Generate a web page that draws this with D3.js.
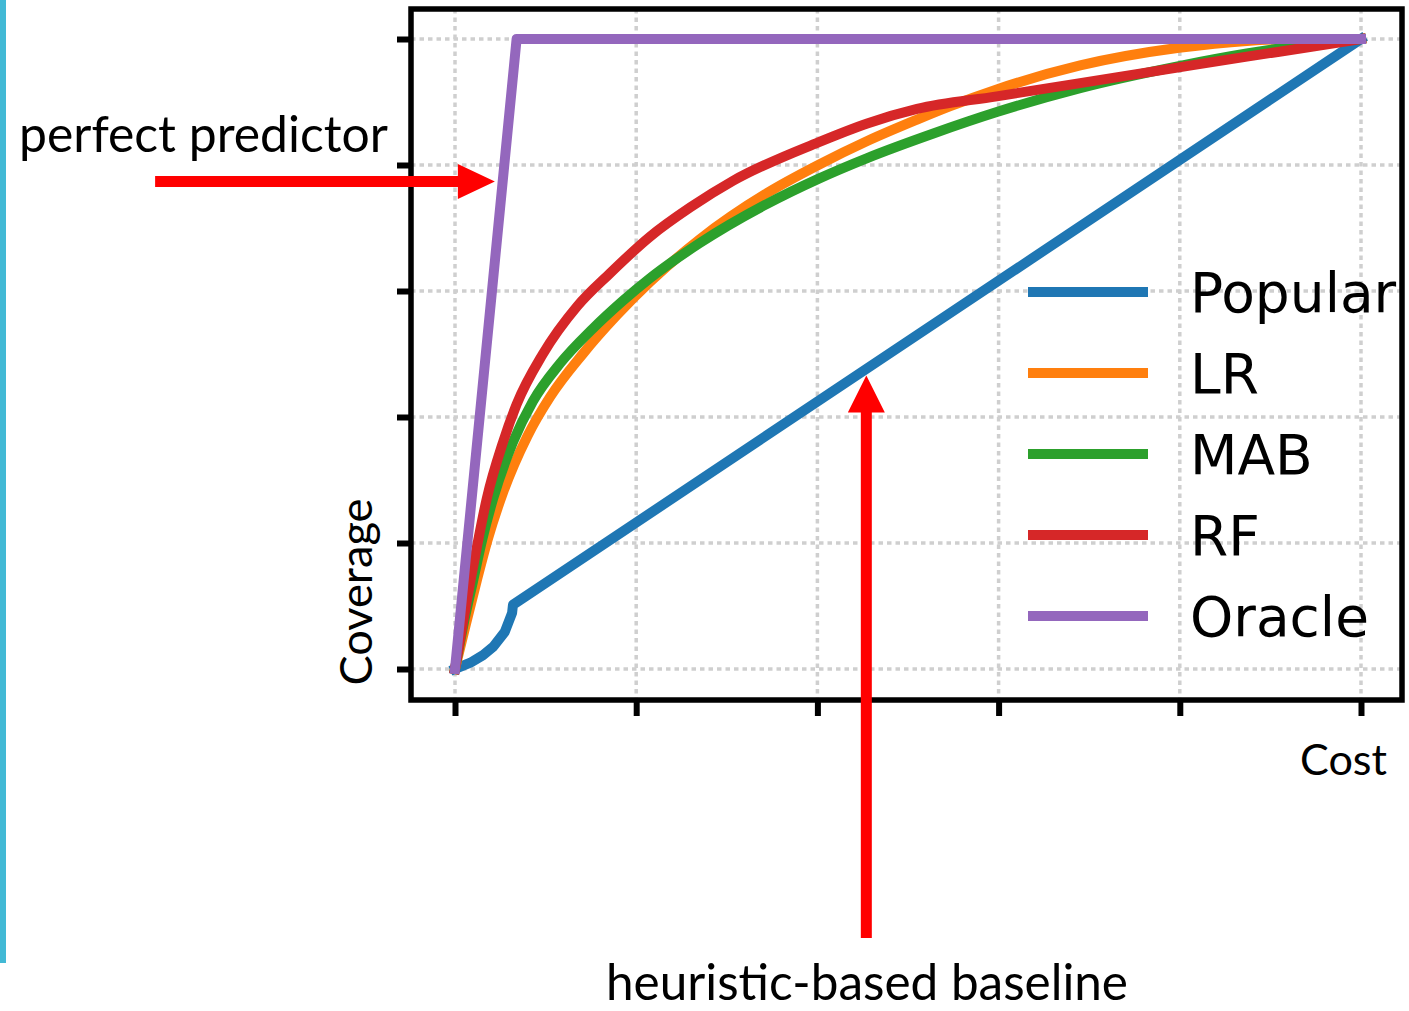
<!DOCTYPE html>
<html>
<head>
<meta charset="utf-8">
<script src="https://cdn.jsdelivr.net/npm/d3@7"></script>
<style>
  html, body { margin: 0; padding: 0; background: #fff; }
  svg { display: block; }
</style>
</head>
<body>
<svg id="chart" width="1409" height="1011"></svg>
<script>
// Coverage vs. cost curves (both axes normalised to 0..1)
const seriesNames = ["Popular", "LR", "MAB", "RF", "Oracle"];
const seriesColors = ["#1f77b4", "#ff7f0e", "#2ca02c", "#d62728", "#9467bd"];

const tickValues = [0, 0.2, 0.4, 0.6, 0.8, 1.0];

const popularCost     = [0, 0.017, 0.031, 0.042, 0.055, 0.063, 0.064, 1.0];
const popularCoverage = [0, 0.010, 0.022, 0.035, 0.059, 0.089, 0.102, 1.0];

const lrCost     = [0, 0.011, 0.024, 0.036, 0.053, 0.080, 0.105, 0.141, 0.179, 0.215, 0.270, 0.344, 0.401, 0.455, 0.510, 0.546, 0.598, 0.690, 0.799, 0.874, 0.933, 1.0];
const lrCoverage = [0, 0.065, 0.140, 0.205, 0.280, 0.370, 0.432, 0.500, 0.562, 0.614, 0.682, 0.755, 0.800, 0.838, 0.872, 0.893, 0.920, 0.958, 0.986, 0.997, 1.0, 1.0];

const mabCost     = [0, 0.010, 0.020, 0.030, 0.042, 0.064, 0.086, 0.116, 0.152, 0.185, 0.215, 0.270, 0.344, 0.401, 0.455, 0.528, 0.598, 0.690, 0.799, 0.874, 0.947, 1.0];
const mabCoverage = [0, 0.075, 0.140, 0.205, 0.270, 0.360, 0.425, 0.485, 0.540, 0.584, 0.620, 0.676, 0.738, 0.778, 0.811, 0.850, 0.884, 0.922, 0.957, 0.977, 0.992, 1.0];

const rfCost     = [0, 0.009, 0.017, 0.025, 0.035, 0.053, 0.068, 0.097, 0.135, 0.171, 0.215, 0.260, 0.307, 0.401, 0.455, 0.510, 0.598, 0.690, 0.799, 0.874, 0.947, 1.0];
const rfCoverage = [0, 0.075, 0.140, 0.200, 0.270, 0.360, 0.420, 0.500, 0.576, 0.628, 0.686, 0.733, 0.775, 0.836, 0.866, 0.889, 0.909, 0.930, 0.955, 0.972, 0.988, 1.0];

const oracleCost     = [0, 0.068, 1.0];
const oracleCoverage = [0, 1.0, 1.0];

const seriesCost = [popularCost, lrCost, mabCost, rfCost, oracleCost];
const seriesCoverage = [popularCoverage, lrCoverage, mabCoverage, rfCoverage, oracleCoverage];

const svg = d3.select("#chart");

// left accent bar
svg.append("rect").attr("x", 0).attr("y", 0).attr("width", 6).attr("height", 963).attr("fill", "#42b9d5");

const x = d3.scaleLinear().domain([0, 1]).range([455, 1361]);
const y = d3.scaleLinear().domain([0, 1]).range([669, 39]);

const frame = { left: 411, top: 9, right: 1402, bottom: 700 };

// dotted grid
const grid = svg.append("g").attr("stroke", "#cfcfcf").attr("stroke-width", 3.5)
  .attr("stroke-dasharray", "4.5,4");
grid.selectAll("line.v").data(tickValues).join("line").attr("class", "v")
  .attr("x1", d => x(d)).attr("x2", d => x(d))
  .attr("y1", frame.top).attr("y2", frame.bottom);
grid.selectAll("line.h").data(tickValues).join("line").attr("class", "h")
  .attr("x1", frame.left).attr("x2", frame.right)
  .attr("y1", d => y(d)).attr("y2", d => y(d));

// axes: ticks only, no labels
const xAxis = svg.append("g").attr("transform", `translate(0,${frame.bottom})`)
  .call(d3.axisBottom(x).tickValues(tickValues).tickSize(16).tickFormat(""));
const yAxis = svg.append("g").attr("transform", `translate(${frame.left},0)`)
  .call(d3.axisLeft(y).tickValues(tickValues).tickSize(14).tickFormat(""));
[xAxis, yAxis].forEach(a => {
  a.select(".domain").remove();
  a.selectAll(".tick line").attr("stroke", "#000").attr("stroke-width", 6);
});

// curves
svg.append("clipPath").attr("id", "plotclip").append("rect")
  .attr("x", frame.left).attr("y", frame.top)
  .attr("width", frame.right - frame.left).attr("height", frame.bottom - frame.top);

const plot = svg.append("g").attr("clip-path", "url(#plotclip)");
seriesNames.forEach((name, i) => {
  const pts = seriesCost[i].map((c, j) => [c, seriesCoverage[i][j]]);
  const smooth = (name === "LR" || name === "MAB" || name === "RF");
  const line = d3.line().x(d => x(d[0])).y(d => y(d[1]))
    .curve(smooth ? d3.curveMonotoneX : d3.curveLinear);
  plot.append("path").datum(pts)
    .attr("d", line)
    .attr("fill", "none")
    .attr("stroke", seriesColors[i])
    .attr("stroke-width", 10)
    .attr("stroke-linejoin", "round")
    .attr("stroke-linecap", "square");
});

// frame
svg.append("rect")
  .attr("x", frame.left).attr("y", frame.top)
  .attr("width", frame.right - frame.left).attr("height", frame.bottom - frame.top)
  .attr("fill", "none").attr("stroke", "#000").attr("stroke-width", 5.5);

// legend
const legend = svg.append("g");
seriesNames.forEach((name, i) => {
  const cy = 292 + i * 81;
  legend.append("line")
    .attr("x1", 1028).attr("x2", 1148).attr("y1", cy).attr("y2", cy)
    .attr("stroke", seriesColors[i]).attr("stroke-width", 10);
  legend.append("text")
    .attr("x", 1190).attr("y", cy + 20)
    .attr("font-family", "DejaVu Sans").attr("font-size", 55)
    .attr("fill", "#000").text(name);
});

// text helper: size a label so it spans a given width
const labelFont = "Lato";
function fitText(sel, width) {
  sel.attr("font-size", 100);
  const w = sel.node().getComputedTextLength();
  sel.attr("font-size", 100 * width / w);
  return sel;
}

// axis titles
fitText(svg.append("text").attr("font-family", labelFont).attr("fill", "#000")
  .attr("text-anchor", "middle")
  .attr("transform", "translate(372,592) rotate(-90)")
  .text("Coverage"), 187);
fitText(svg.append("text").attr("font-family", labelFont).attr("fill", "#000")
  .attr("x", 1300).attr("y", 775)
  .text("Cost"), 87);

// annotations
const red = "#ff0000";
function arrow(tip, tail, shaft, headLen, headHalf) {
  const [tx, ty] = [x(tip[0]), y(tip[1])];
  const [sx, sy] = [x(tail[0]), y(tail[1])];
  const len = Math.hypot(tx - sx, ty - sy);
  const ux = (tx - sx) / len, uy = (ty - sy) / len;
  const nx = -uy, ny = ux;
  const bx = tx - ux * headLen, by = ty - uy * headLen;
  const h = shaft / 2;
  const pts = [
    [sx + nx * h, sy + ny * h], [bx + nx * h, by + ny * h],
    [bx + nx * headHalf, by + ny * headHalf], [tx, ty],
    [bx - nx * headHalf, by - ny * headHalf], [bx - nx * h, by - ny * h],
    [sx - nx * h, sy - ny * h]
  ];
  svg.append("path").attr("d", "M" + pts.map(p => p.join(",")).join("L") + "Z").attr("fill", red);
}

// perfect predictor -> Oracle
arrow([0.044, 0.774], [-0.331, 0.774], 11, 37, 17.5);
// heuristic-based baseline -> Popular
arrow([0.454, 0.466], [0.454, -0.427], 11, 37, 18.5);

fitText(svg.append("text").attr("font-family", labelFont).attr("fill", "#000")
  .attr("x", 19).attr("y", 152)
  .text("perfect predictor"), 369);
fitText(svg.append("text").attr("font-family", labelFont).attr("fill", "#000")
  .attr("x", 867).attr("y", 1000).attr("text-anchor", "middle")
  .text("heuristic-based baseline"), 522);
</script>
</body>
</html>
